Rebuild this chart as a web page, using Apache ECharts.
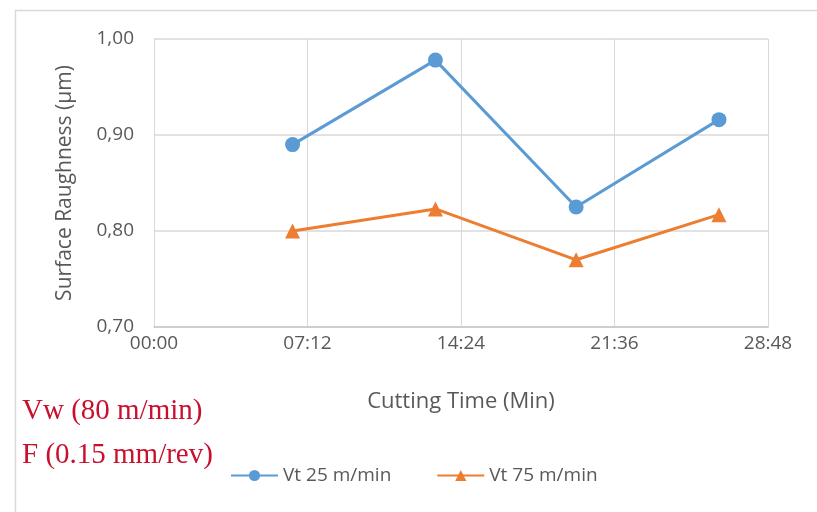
<!DOCTYPE html>
<html>
<head>
<meta charset="utf-8">
<script src="https://cdn.jsdelivr.net/npm/echarts@6/dist/echarts.min.js"></script>
<style>
  html, body { margin: 0; padding: 0; background: #ffffff; }
  #chart { width: 817px; height: 512px; }
</style>
</head>
<body>
<div id="chart"></div>
<script>
// Cutting time in minutes
var timesMin = [6.5, 13.2, 19.8, 26.5];
var vt25 = [0.890, 0.978, 0.825, 0.916];
var vt75 = [0.800, 0.823, 0.770, 0.817];
var seriesNames = ['Vt 25 m/min', 'Vt 75 m/min'];
var yTicks = [0.70, 0.80, 0.90, 1.00];
var xTickStep = 7.2; // 07:12

function pairs(xs, ys) { return xs.map(function (x, i) { return [x, ys[i]]; }); }
function pad(n) { return (n < 10 ? '0' : '') + n; }

var textColor = '#595959';
var font = '"Open Sans", sans-serif';

var chart = echarts.init(document.getElementById('chart'));
chart.setOption({
  backgroundColor: '#ffffff',
  animation: false,
  grid: { left: 154, right: 49, top: 39, bottom: 185, containLabel: false },
  xAxis: {
    type: 'value',
    min: 0, max: 28.8, interval: xTickStep,
    name: 'Cutting Time (Min)',
    nameLocation: 'middle', nameGap: 64,
    nameTextStyle: { color: textColor, fontSize: 22, fontFamily: font },
    axisLine: { show: true, lineStyle: { color: '#c8c8c8', width: 1.5 } },
    axisTick: { show: false },
    axisLabel: {
      color: textColor, fontSize: 19, fontFamily: font, margin: 7,
      formatter: function (v) {
        var m = Math.floor(v + 1e-9);
        var s = Math.round((v - m) * 60);
        return pad(m) + ':' + pad(s);
      }
    },
    splitLine: { show: true, lineStyle: { color: '#d9d9d9', width: 1 } }
  },
  yAxis: {
    type: 'value',
    min: yTicks[0], max: yTicks[yTicks.length - 1], interval: 0.1,
    name: 'Surface Raughness (\u00b5m)',
    nameLocation: 'middle', nameGap: 78,
    nameTextStyle: { color: textColor, fontSize: 21, fontFamily: font },
    axisLine: { show: true, lineStyle: { color: '#d9d9d9' } },
    axisTick: { show: false },
    axisLabel: {
      color: textColor, fontSize: 19, fontFamily: font, margin: 20,
      formatter: function (v) { return v.toFixed(2).replace('.', ','); }
    },
    splitLine: { show: true, lineStyle: { color: '#d9d9d9', width: 1.5 } }
  },
  legend: {
    left: 225, top: 461,
    itemWidth: 47, itemHeight: 14, itemGap: 45,
    textStyle: { color: textColor, fontSize: 19, fontFamily: font },
    data: seriesNames
  },
  series: [
    {
      name: seriesNames[0], type: 'line',
      data: pairs(timesMin, vt25),
      symbol: 'circle', symbolSize: 15,
      lineStyle: { color: '#5b9bd5', width: 3 },
      itemStyle: { color: '#5b9bd5' }
    },
    {
      name: seriesNames[1], type: 'line',
      data: pairs(timesMin, vt75),
      symbol: 'triangle', symbolSize: 15,
      lineStyle: { color: '#ed7d31', width: 3 },
      itemStyle: { color: '#ed7d31' }
    }
  ],
  graphic: [
    {
      type: 'rect', left: 13, top: 8, silent: true,
      shape: { width: 830, height: 520 },
      style: { fill: 'none', stroke: '#d9d9d9', lineWidth: 1.5 }
    },
    {
      type: 'text', left: 22, top: 397,
      style: { text: 'Vw (80 m/min)', fill: '#c8102e', font: '29px "Liberation Serif", serif' }
    },
    {
      type: 'text', left: 22, top: 441,
      style: { text: 'F (0.15 mm/rev)', fill: '#c8102e', font: '29px "Liberation Serif", serif' }
    }
  ]
});
</script>
</body>
</html>
